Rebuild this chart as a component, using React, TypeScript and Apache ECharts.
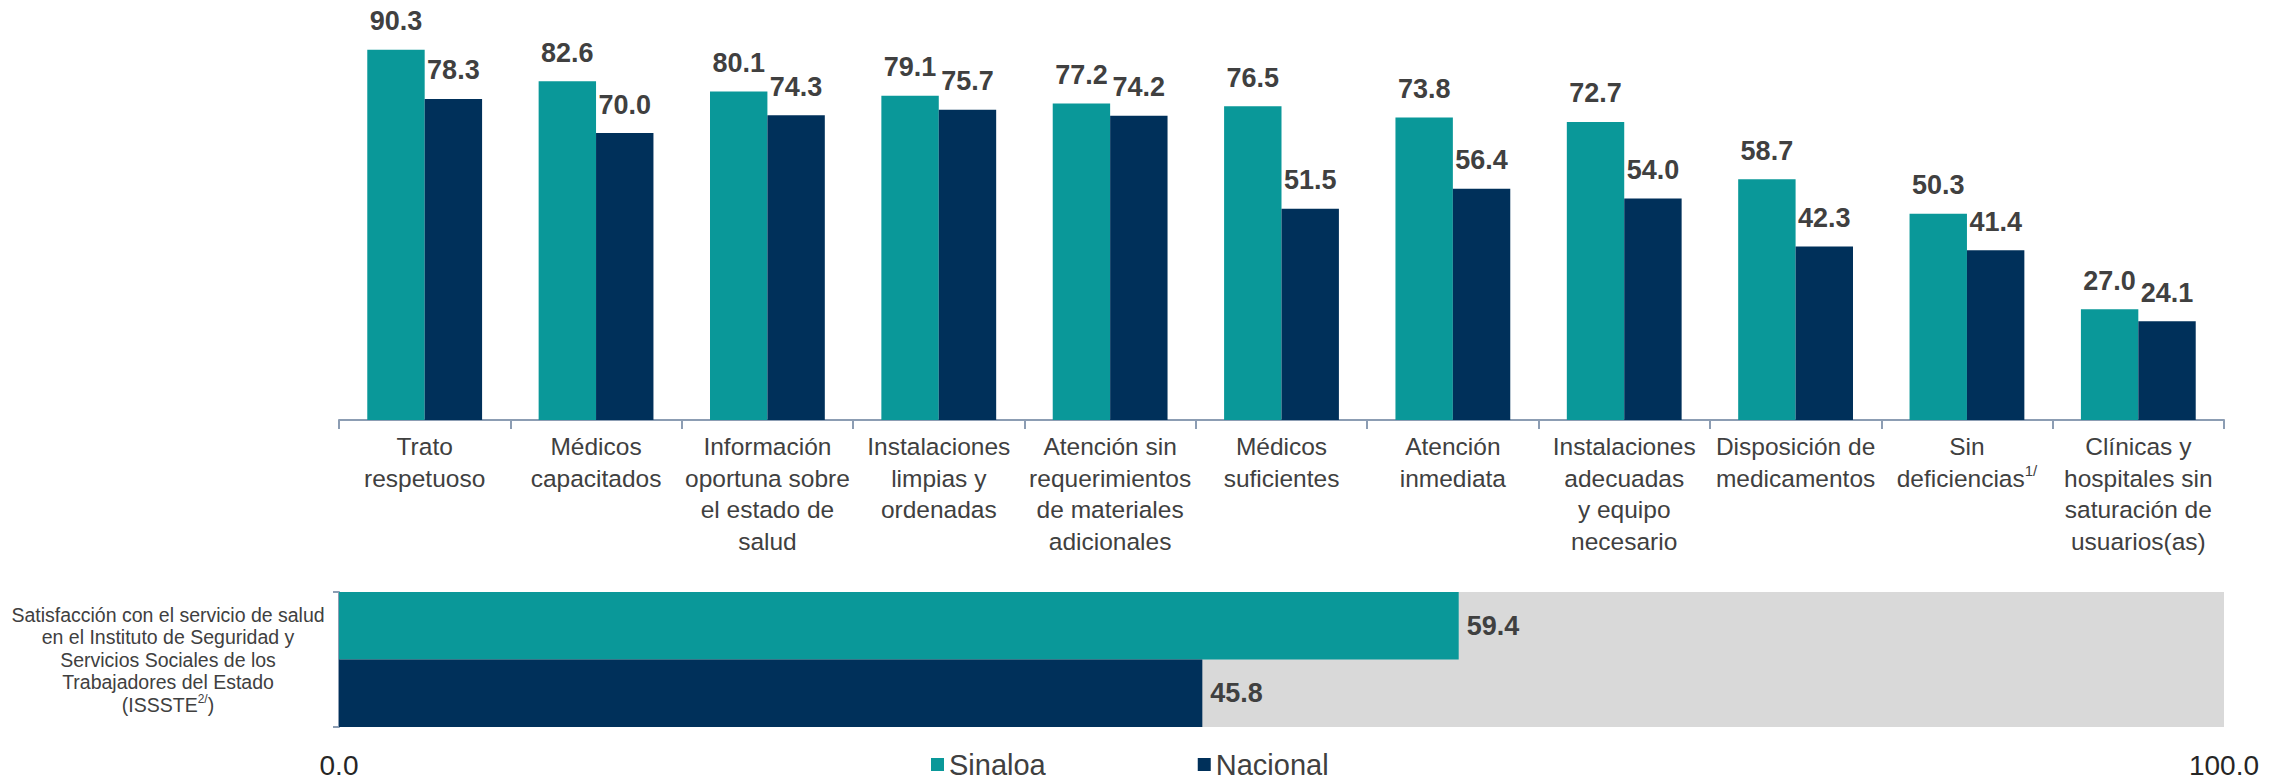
import React, { useEffect, useRef } from "react";
import * as echarts from "echarts";

const categories = [
  "Trato\nrespetuoso",
  "Médicos\ncapacitados",
  "Información\noportuna sobre\nel estado de\nsalud",
  "Instalaciones\nlimpias y\nordenadas",
  "Atención sin\nrequerimientos\nde materiales\nadicionales",
  "Médicos\nsuficientes",
  "Atención\ninmediata",
  "Instalaciones\nadecuadas\ny equipo\nnecesario",
  "Disposición de\nmedicamentos",
  "Sin\ndeficiencias{sup|1/}",
  "Clínicas y\nhospitales sin\nsaturación de\nusuarios(as)",
];
const sinaloa = [90.3, 82.6, 80.1, 79.1, 77.2, 76.5, 73.8, 72.7, 58.7, 50.3, 27.0];
const nacional = [78.3, 70.0, 74.3, 75.7, 74.2, 51.5, 56.4, 54.0, 42.3, 41.4, 24.1];

const issteCategory = [
  "Satisfacción con el servicio de salud\nen el Instituto de Seguridad y\nServicios Sociales de los\nTrabajadores del Estado\n(ISSSTE{sup|2/})",
];
const issteSinaloa = [59.4];
const issteNacional = [45.8];
const xTickMin = 0;
const xTickMax = 100;

const TEAL = "#0A9899";
const NAVY = "#00305A";
const TEXT = "#404040";
const AXIS = "#8C9DB3";
const FONT = "'Liberation Sans', Arial, sans-serif";

export default function App() {
  const ref = useRef<HTMLDivElement>(null);
  useEffect(() => {
    if (!ref.current) return;
    const chart = echarts.init(ref.current, undefined, { renderer: "svg" });
    const topLabel = {
      show: true,
      position: "top" as const,
      distance: 15,
      fontSize: 27,
      fontWeight: "bold" as const,
      color: TEXT,
      fontFamily: FONT,
      formatter: (p: any) => Number(p.value).toFixed(1),
    };
    const rightLabel = {
      show: true,
      position: "right" as const,
      distance: 8,
      fontSize: 27,
      fontWeight: "bold" as const,
      color: TEXT,
      fontFamily: FONT,
      formatter: (p: any) => Number(p.value).toFixed(1),
    };
    chart.setOption({
      animation: false,
      textStyle: { fontFamily: FONT },
      grid: [
        { left: 339, right: 66, top: 10, bottom: 362 },
        {
          left: 339,
          right: 66,
          top: 592,
          height: 135,
          show: true,
          backgroundColor: "#D9D9D9",
          borderWidth: 0,
        },
      ],
      legend: {
        data: ["Sinaloa", "Nacional"],
        left: 931,
        top: 750,
        itemGap: 152,
        itemWidth: 13,
        itemHeight: 13,
        icon: "rect",
        padding: 0,
        textStyle: { fontSize: 29, lineHeight: 29, color: TEXT, fontFamily: FONT },
      },
      xAxis: [
        {
          type: "category",
          gridIndex: 0,
          data: categories,
          axisLine: { show: true, lineStyle: { color: AXIS, width: 2 } },
          axisTick: { show: true, length: 9, lineStyle: { color: AXIS, width: 2 } },
          axisLabel: {
            interval: 0,
            fontSize: 24.5,
            lineHeight: 31.5,
            color: TEXT,
            fontFamily: FONT,
            margin: 11,
            rich: {
              sup: { fontSize: 15, color: TEXT, fontFamily: FONT, verticalAlign: "top", lineHeight: 31.5 },
            },
          },
        },
        {
          type: "value",
          gridIndex: 1,
          min: xTickMin,
          max: xTickMax,
          interval: xTickMax - xTickMin,
          axisLine: { show: false },
          axisTick: { show: false },
          splitLine: { show: false },
          axisLabel: {
            fontSize: 28,
            color: "#262626",
            fontFamily: FONT,
            margin: 24,
            formatter: (v: number) => v.toFixed(1),
          },
        },
      ],
      yAxis: [
        {
          type: "value",
          gridIndex: 0,
          min: 0,
          max: 100,
          show: false,
          splitLine: { show: false },
        },
        {
          type: "category",
          gridIndex: 1,
          data: issteCategory,
          axisLine: { show: true, lineStyle: { color: AXIS, width: 2 } },
          axisTick: { show: true, length: 6, lineStyle: { color: AXIS, width: 2 } },
          axisLabel: {
            fontSize: 19.5,
            lineHeight: 22.5,
            color: TEXT,
            fontFamily: FONT,
            align: "center",
            margin: 171,
            rich: {
              sup: { fontSize: 12, color: TEXT, fontFamily: FONT, verticalAlign: "top", lineHeight: 22.5 },
            },
          },
        },
      ],
      series: [
        {
          name: "Sinaloa",
          type: "bar",
          xAxisIndex: 0,
          yAxisIndex: 0,
          data: sinaloa,
          itemStyle: { color: TEAL },
          barGap: "0%",
          barCategoryGap: "33%",
          label: topLabel,
        },
        {
          name: "Nacional",
          type: "bar",
          xAxisIndex: 0,
          yAxisIndex: 0,
          data: nacional,
          itemStyle: { color: NAVY },
          barGap: "0%",
          barCategoryGap: "33%",
          label: topLabel,
        },
        {
          name: "Sinaloa",
          type: "bar",
          xAxisIndex: 1,
          yAxisIndex: 1,
          data: issteSinaloa,
          itemStyle: { color: TEAL },
          barGap: "0%",
          barCategoryGap: "0%",
          label: rightLabel,
        },
        {
          name: "Nacional",
          type: "bar",
          xAxisIndex: 1,
          yAxisIndex: 1,
          data: issteNacional,
          itemStyle: { color: NAVY },
          barGap: "0%",
          barCategoryGap: "0%",
          label: rightLabel,
        },
      ],
    });
    return () => chart.dispose();
  }, []);
  return (
    <div
      ref={ref}
      style={{ position: "absolute", left: 0, top: 0, width: 2290, height: 782, background: "#fff" }}
    />
  );
}
